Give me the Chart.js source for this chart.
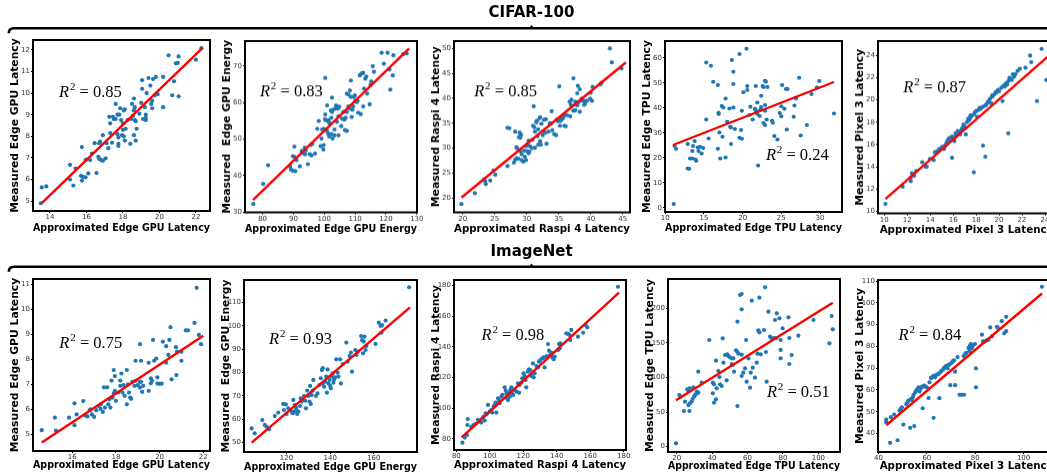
<!DOCTYPE html>
<html>
<head>
<meta charset="utf-8">
<script src="https://cdn.jsdelivr.net/npm/chart.js@4.4.1/dist/chart.umd.min.js"></script>
<style>
    html, body { margin: 0; padding: 0; background: #fff; }
    #fig { position: relative; width: 1047px; height: 476px; overflow: hidden; }
    #fig canvas { position: absolute; }
</style>
</head>
<body>
<div id="fig">
    <canvas id="braces" width="1047" height="476" style="left:0;top:0;width:1047px;height:476px"></canvas>
</div>
<script>
// Section titles
const groupTitles = ['CIFAR-100', 'ImageNet'];

// R^2 values shown on each panel (row by row)
const r2Values = ['0.85', '0.83', '0.85', '0.24', '0.87', '0.75', '0.93', '0.98', '0.51', '0.84'];

// CIFAR-100 : [approximated, measured]
const cifarGpuLat = [[13.55,5.63],[13.8,5.68],[13.5,4.9],[15.1,6.68],[15.1,6.0],[15.28,5.72],[15.4,6.5],[15.75,7.5],[15.7,6.17],[15.8,6.12],[15.75,5.95],[15.95,6.9],[16.0,6.92],[15.95,6.1],[16.1,6.28],[16.2,6.9],[16.3,7.2],[16.45,7.68],[16.55,6.3],[16.65,7.05],[16.7,7.68],[16.75,7.75],[16.7,6.95],[16.8,6.9],[16.9,6.87],[16.9,8.05],[17.05,6.98],[17.1,7.68],[17.2,7.45],[17.25,8.9],[17.3,8.6],[17.3,8.15],[17.4,7.7],[17.45,8.9],[17.5,8.8],[17.6,8.8],[17.6,9.5],[17.7,8.1],[17.75,7.95],[17.75,7.65],[17.75,7.55],[17.7,9.0],[17.8,9.0],[17.85,9.3],[17.9,8.75],[17.95,8.05],[18.0,8.3],[18.05,9.2],[18.1,9.25],[18.05,8.0],[18.1,7.8],[18.0,8.6],[18.15,8.35],[18.25,8.75],[18.4,7.65],[18.45,8.8],[18.5,9.5],[18.55,8.95],[18.6,9.75],[18.65,9.35],[18.6,9.2],[18.65,8.75],[18.7,8.7],[18.7,7.8],[18.6,8.05],[18.75,8.35],[18.9,9.05],[19.0,9.55],[19.05,10.6],[19.05,10.2],[19.1,8.8],[19.2,8.8],[19.25,8.85],[19.25,8.75],[19.2,9.35],[19.25,9.0],[19.3,10.0],[19.4,10.7],[19.5,10.35],[19.55,9.5],[19.6,9.65],[19.6,9.3],[19.65,10.65],[19.75,9.9],[19.8,10.75],[19.9,9.95],[20.2,10.75],[20.2,9.35],[20.5,11.75],[20.7,9.9],[20.8,10.55],[20.9,11.38],[21.0,11.4],[21.05,11.7],[21.05,9.85],[22.0,11.55],[22.3,12.08]];
const cifarGpuLatFit = [[13.55,4.9],[22.35,12.08]];
const cifarGpuLatXTicks = [14, 16, 18, 20, 22];
const cifarGpuLatYTicks = [5, 6, 7, 8, 9, 10, 11, 12];

const cifarGpuEnergy = [[77.0,32.2],[80.2,37.7],[81.8,42.8],[88.9,42.5],[89.2,41.6],[89.8,41.3],[90.6,41.2],[89.8,45.3],[90.3,45.1],[90.3,47.9],[91.0,44.2],[92.1,42.5],[92.7,46.7],[93.2,46.1],[93.8,45.8],[94.0,46.9],[93.7,47.6],[94.7,43.1],[95.3,45.8],[95.9,45.5],[95.6,48.3],[96.1,48.7],[97.0,46.0],[97.7,52.8],[98.2,54.9],[98.8,48.0],[99.1,50.1],[99.3,52.6],[99.8,52.8],[99.7,47.1],[99.8,48.3],[100.2,55.4],[100.6,55.1],[100.3,56.7],[100.3,66.7],[100.9,52.2],[101.2,51.5],[100.9,59.2],[101.4,55.1],[101.6,54.4],[101.6,50.7],[102.3,51.3],[102.1,57.8],[102.5,57.4],[102.3,55.8],[102.5,61.3],[102.7,50.1],[103.3,51.0],[103.0,58.1],[103.6,58.3],[103.8,59.2],[103.3,52.6],[104.1,58.9],[104.4,58.3],[104.8,58.8],[104.1,54.7],[104.6,56.2],[104.6,51.0],[105.5,53.5],[105.7,55.6],[106.2,57.4],[106.5,55.3],[106.9,55.8],[106.7,52.4],[107.3,52.2],[107.3,62.4],[107.8,62.2],[107.3,57.4],[107.8,58.9],[108.3,58.3],[108.3,63.3],[108.6,66.0],[108.6,61.5],[108.9,56.0],[109.1,58.0],[109.4,58.9],[109.5,61.5],[109.9,61.9],[110.1,60.5],[110.5,60.1],[110.8,60.4],[111.0,57.2],[111.5,67.4],[112.0,67.9],[112.6,68.1],[111.8,56.8],[112.6,58.9],[112.9,63.8],[113.3,66.5],[113.6,67.1],[113.9,62.4],[114.7,59.5],[115.2,65.8],[115.7,69.9],[115.0,64.8],[116.1,68.4],[118.6,73.6],[119.3,70.6],[120.5,73.6],[121.1,69.0],[121.4,63.5],[122.2,67.4],[122.4,72.9],[125.6,73.2],[126.7,73.4]];
const cifarGpuEnergyFit = [[76.9,33.3],[127.5,74.8]];
const cifarGpuEnergyXTicks = [80, 90, 100, 110, 120, 130];
const cifarGpuEnergyYTicks = [30, 40, 50, 60, 70];

const cifarRaspi = [[19.8,18.8],[21.9,21.0],[23.3,23.7],[23.6,22.8],[23.5,23.4],[24.3,23.5],[24.8,25.5],[25.1,24.7],[27.0,26.4],[27.0,34.1],[27.3,34.0],[28.0,27.1],[28.2,27.7],[28.2,33.3],[28.4,30.2],[28.5,30.0],[28.4,28.0],[28.7,27.9],[28.8,32.2],[29.0,32.1],[29.1,32.7],[28.9,33.1],[29.0,29.4],[29.2,28.8],[29.2,27.6],[29.5,27.3],[29.6,29.5],[29.7,28.3],[29.9,30.4],[30.1,30.7],[29.9,27.6],[30.1,29.4],[30.3,29.0],[30.4,29.3],[30.3,31.5],[30.5,30.4],[30.8,30.0],[30.9,31.7],[31.0,34.5],[31.2,34.2],[31.1,38.4],[31.3,33.3],[31.5,35.2],[31.6,35.5],[31.3,30.1],[31.7,32.4],[31.8,33.8],[31.8,30.7],[32.0,36.0],[32.1,36.2],[32.1,31.4],[32.2,30.7],[32.3,34.9],[32.5,32.6],[32.6,33.4],[32.7,35.7],[32.9,33.1],[33.0,35.8],[33.1,30.9],[33.4,33.3],[33.6,35.0],[33.8,34.9],[33.9,37.4],[34.0,33.6],[34.3,32.8],[34.6,32.6],[34.7,35.7],[34.9,35.4],[35.1,35.9],[35.1,42.4],[35.2,34.5],[35.3,35.5],[35.6,35.9],[35.7,36.2],[35.9,36.6],[35.9,34.5],[36.1,34.4],[36.3,36.6],[36.7,39.3],[36.9,38.7],[37.0,39.7],[36.8,36.4],[37.3,44.0],[37.3,37.5],[37.6,37.6],[37.6,39.3],[37.9,38.6],[38.0,39.1],[37.9,41.0],[38.0,42.5],[38.3,41.8],[38.3,37.3],[38.4,39.5],[38.6,39.9],[38.9,39.5],[39.0,38.7],[39.1,39.0],[39.4,39.5],[39.9,39.9],[40.2,39.5],[40.0,41.1],[40.3,42.3],[41.5,42.8],[41.7,43.1],[43.0,50.0],[43.3,47.2],[44.8,46.0]];
const cifarRaspiFit = [[19.8,20.1],[45.5,47.2]];
const cifarRaspiXTicks = [20, 25, 30, 35, 40, 45];
const cifarRaspiYTicks = [20, 25, 30, 35, 40, 45, 50];

const cifarTpu = [[11.1,1.5],[11.2,24.7],[11.4,23.6],[12.9,25.5],[12.9,15.7],[13.1,15.6],[13.2,19.7],[13.5,19.7],[13.5,22.7],[13.8,26.7],[13.6,24.7],[13.9,19.3],[14.0,18.8],[14.2,24.1],[14.5,24.4],[14.9,23.9],[14.3,22.7],[14.7,21.7],[15.3,58.1],[15.3,35.3],[15.6,27.7],[15.9,56.8],[16.2,50.4],[16.8,49.1],[16.9,38.0],[16.9,37.5],[16.8,23.6],[17.0,30.1],[17.1,19.7],[17.3,40.7],[17.5,40.1],[17.4,28.4],[17.8,43.7],[17.8,20.1],[18.0,34.4],[18.3,39.7],[18.4,32.4],[18.5,32.1],[18.5,25.5],[18.6,59.1],[18.8,54.4],[18.8,49.5],[18.8,40.1],[19.0,31.5],[19.6,61.5],[19.6,28.0],[19.9,27.6],[19.8,31.1],[19.9,38.8],[20.1,46.2],[20.5,63.6],[20.6,47.1],[20.6,48.7],[20.9,37.1],[21.0,40.4],[21.3,35.3],[21.6,39.6],[21.7,39.0],[21.7,48.7],[21.9,42.1],[21.9,37.5],[22.2,36.7],[22.0,16.9],[22.3,39.3],[22.4,40.3],[22.4,44.8],[22.6,48.7],[22.7,33.9],[22.7,48.3],[22.9,50.8],[23.0,50.4],[22.9,41.1],[22.9,38.8],[22.9,33.1],[23.1,35.3],[23.2,48.3],[23.8,34.8],[23.9,34.0],[24.1,28.7],[24.5,27.3],[24.8,37.9],[25.0,36.6],[25.0,40.6],[25.1,49.1],[25.4,39.6],[25.6,47.5],[25.8,47.5],[25.7,31.3],[26.6,36.4],[26.7,40.9],[26.9,43.7],[27.3,52.0],[27.5,28.9],[28.3,33.1],[28.9,45.5],[29.6,48.1],[29.9,50.7],[31.8,37.7]];
const cifarTpuFit = [[11.0,25.1],[31.8,50.3]];
const cifarTpuXTicks = [10, 15, 20, 25, 30];
const cifarTpuYTicks = [0, 10, 20, 30, 40, 50, 60];

const cifarPixel = [[10.1,10.66],[11.6,12.2],[12.3,12.7],[12.3,13.0],[12.4,13.4],[12.6,13.2],[12.8,13.6],[13.3,14.4],[13.6,14.0],[13.7,14.0],[13.98,14.7],[14.3,14.6],[14.4,15.3],[14.6,15.4],[14.8,15.6],[15.0,15.7],[15.1,15.8],[15.2,15.6],[15.3,15.9],[15.4,16.1],[15.5,16.3],[15.6,16.5],[15.7,16.6],[15.8,16.5],[15.9,16.7],[15.9,14.8],[16.0,16.5],[16.1,16.3],[16.2,16.7],[16.2,17.0],[16.3,16.9],[16.4,17.1],[16.4,17.2],[16.5,17.0],[16.6,16.9],[16.7,17.3],[16.8,17.5],[16.9,17.8],[17.0,17.6],[17.1,16.9],[17.2,18.0],[17.3,18.3],[17.4,18.2],[17.5,18.4],[17.5,18.6],[17.6,18.6],[17.8,18.7],[17.9,18.9],[18.0,19.0],[17.8,13.5],[18.1,18.5],[18.2,19.1],[18.3,19.3],[18.4,19.2],[18.6,19.4],[18.6,15.9],[18.8,14.9],[18.8,19.5],[18.9,19.6],[19.0,19.8],[19.1,19.9],[19.2,20.1],[19.4,20.3],[19.4,20.4],[19.3,19.7],[19.6,20.5],[19.7,20.7],[19.8,20.7],[19.9,20.9],[20.0,20.8],[20.2,21.1],[20.3,19.9],[20.4,21.3],[20.5,21.2],[20.6,21.5],[20.7,21.4],[20.8,21.7],[20.8,17.0],[20.9,22.0],[21.0,21.9],[21.1,21.8],[21.2,22.3],[21.3,22.1],[21.4,22.3],[21.6,22.6],[21.8,22.8],[22.3,22.9],[22.7,24.0],[22.8,23.4],[23.3,19.9],[23.7,24.6],[24.1,21.8]];
const cifarPixelFit = [[10.1,11.1],[24.9,24.5]];
const cifarPixelXTicks = [10, 12, 14, 16, 18, 20, 22, 24];
const cifarPixelYTicks = [10, 12, 14, 16, 18, 20, 22, 24];

// ImageNet : [approximated, measured]
const inetGpuLat = [[14.6,5.17],[15.2,5.67],[15.25,5.15],[15.85,5.67],[16.1,6.24],[16.1,5.37],[16.2,5.8],[16.5,6.33],[16.6,5.75],[16.7,5.72],[16.8,5.97],[16.85,6.0],[16.9,5.8],[17.0,5.7],[17.1,5.97],[17.2,6.14],[17.3,6.2],[17.3,6.02],[17.4,5.9],[17.45,6.88],[17.5,6.07],[17.6,6.88],[17.65,6.2],[17.7,6.4],[17.75,6.07],[17.8,7.15],[17.85,6.47],[17.9,6.64],[17.9,7.57],[17.95,7.33],[17.95,6.74],[18.0,6.34],[18.1,6.67],[18.2,6.94],[18.2,7.15],[18.25,7.43],[18.3,6.67],[18.35,6.97],[18.4,6.54],[18.5,6.2],[18.5,7.57],[18.55,7.0],[18.6,6.67],[18.65,6.47],[18.7,6.42],[18.75,7.1],[18.85,6.94],[18.9,7.14],[19.0,6.97],[18.9,7.94],[19.1,7.1],[19.15,7.1],[19.1,6.87],[19.25,6.94],[19.1,8.6],[19.15,7.94],[19.2,6.7],[19.5,6.74],[19.6,7.24],[19.5,7.86],[19.6,7.04],[19.65,7.14],[19.7,8.77],[19.75,7.94],[19.85,8.03],[19.9,7.28],[19.9,7.03],[20.0,7.02],[20.1,7.03],[20.15,8.7],[20.3,8.52],[20.3,7.86],[20.4,8.17],[20.45,8.77],[20.5,9.28],[20.55,7.2],[20.75,8.48],[20.8,8.3],[20.77,7.37],[21.0,7.94],[21.0,8.3],[21.2,9.15],[21.3,9.15],[21.6,9.45],[21.7,10.85],[21.8,8.97],[21.9,8.6]];
const inetGpuLatFit = [[14.6,4.68],[22.0,8.94]];
const inetGpuLatXTicks = [16, 18, 20, 22];
const inetGpuLatYTicks = [5, 6, 7, 8, 9, 10, 11];

const inetGpuEnergy = [[104.0,56.1],[105.4,54.0],[108.9,59.7],[110.0,57.6],[110.8,56.9],[112.0,55.7],[114.6,61.4],[116.2,62.9],[118.5,66.6],[119.7,66.4],[118.8,64.0],[120.0,62.3],[120.8,64.7],[121.5,64.0],[122.3,63.3],[122.8,62.6],[123.4,63.3],[123.1,68.3],[123.8,66.1],[124.3,65.1],[124.6,64.0],[124.9,62.3],[125.4,63.3],[126.2,65.7],[126.9,67.6],[126.5,69.0],[128.0,70.0],[128.5,68.0],[128.9,64.7],[129.5,72.3],[130.0,70.0],[130.5,67.6],[130.8,74.3],[131.5,70.4],[132.0,72.3],[131.1,66.6],[132.3,76.9],[133.5,70.0],[134.2,71.1],[135.1,74.7],[135.7,77.6],[136.2,81.1],[136.6,81.9],[136.6,75.4],[137.2,74.0],[137.7,76.1],[138.2,78.3],[138.5,71.4],[138.8,81.4],[139.2,75.4],[139.7,76.9],[140.0,74.3],[140.3,73.3],[140.8,78.3],[141.2,79.7],[141.5,75.7],[141.8,77.1],[142.3,78.0],[142.8,85.7],[143.4,80.0],[143.8,78.3],[144.6,85.7],[144.9,75.4],[145.8,83.7],[147.4,92.9],[148.0,84.7],[148.9,87.1],[149.5,88.6],[150.0,80.4],[151.5,89.7],[152.0,87.6],[152.6,89.0],[154.2,95.7],[154.6,94.0],[155.4,93.3],[155.7,95.4],[155.1,88.3],[156.2,89.7],[156.6,91.4],[160.8,92.3],[162.3,101.4],[163.1,100.0],[163.8,100.4],[165.4,102.3],[163.5,97.1],[176.2,116.6]];
const inetGpuEnergyFit = [[104.0,50.0],[176.6,108.0]];
const inetGpuEnergyXTicks = [120, 140, 160];
const inetGpuEnergyYTicks = [50, 60, 70, 80, 90, 100, 110];

const inetRaspi = [[83.6,77.6],[85.0,80.9],[86.4,82.6],[86.8,93.0],[86.6,89.1],[89.0,88.0],[90.4,89.1],[91.6,89.8],[92.9,92.4],[93.9,91.3],[94.9,90.7],[95.5,93.5],[96.3,94.6],[96.9,92.0],[97.5,96.7],[98.3,96.3],[98.9,102.2],[99.9,97.8],[100.9,98.9],[101.5,97.2],[102.3,101.1],[102.9,102.2],[103.5,103.7],[103.9,97.2],[104.9,106.5],[105.5,105.0],[105.9,103.3],[106.9,107.6],[107.5,108.7],[108.9,113.7],[109.5,111.5],[109.9,109.3],[110.3,106.5],[110.9,105.4],[111.9,107.6],[111.5,110.2],[112.3,112.0],[112.9,113.7],[113.5,109.3],[113.9,108.7],[114.9,112.0],[115.9,110.9],[116.9,116.3],[117.5,110.2],[117.8,115.2],[118.8,116.7],[119.4,119.6],[120.2,122.8],[120.8,121.1],[121.4,118.5],[121.8,113.7],[122.8,123.9],[123.4,125.4],[124.2,125.0],[124.8,121.1],[125.8,129.3],[126.2,120.2],[126.8,122.8],[127.8,127.6],[128.8,126.7],[129.4,130.4],[130.2,131.5],[131.4,132.6],[132.2,133.2],[132.8,126.7],[133.4,133.2],[134.2,134.1],[134.8,141.9],[135.4,137.6],[136.2,134.8],[136.8,136.3],[137.4,133.2],[138.2,132.0],[138.8,133.7],[140.8,138.0],[141.4,141.9],[142.2,142.4],[141.8,139.1],[145.7,148.9],[146.7,148.5],[147.7,147.8],[148.1,144.6],[148.7,151.1],[152.7,146.7],[155.8,149.3],[157.2,154.3],[158.2,152.8],[176.6,179.3]];
const inetRaspiFit = [[83.2,81.1],[177.2,175.4]];
const inetRaspiXTicks = [80, 100, 120, 140, 160, 180];
const inetRaspiYTicks = [80, 100, 120, 140, 160, 180];

const inetTpu = [[19.6,4.8],[21.5,74.7],[22.3,72.3],[24.1,51.6],[27.2,51.6],[24.7,65.1],[26.0,82.9],[26.6,81.0],[27.2,84.3],[26.6,60.2],[27.5,62.7],[28.5,65.5],[29.0,68.9],[29.8,72.3],[30.4,74.7],[30.9,76.1],[29.4,85.8],[31.3,79.5],[32.2,78.1],[32.2,108.4],[34.1,92.5],[38.4,154.2],[40.4,92.5],[41.1,90.1],[40.4,77.1],[41.1,63.6],[42.2,68.4],[42.6,84.3],[42.2,124.3],[43.5,109.4],[44.1,100.7],[44.5,90.1],[45.4,87.7],[46.0,156.6],[46.4,121.4],[47.3,132.5],[48.6,133.5],[48.2,95.9],[49.2,131.0],[50.1,129.2],[51.1,127.7],[51.1,119.5],[51.7,118.1],[52.0,127.7],[52.4,108.4],[53.5,139.3],[54.3,136.9],[54.8,134.5],[54.3,180.7],[54.3,58.8],[55.8,219.3],[56.7,220.7],[56.7,198.6],[56.7,133.0],[56.7,102.2],[57.6,107.0],[58.6,113.3],[59.2,154.2],[59.5,94.0],[60.5,127.7],[61.4,85.3],[61.8,107.0],[62.9,114.2],[62.4,211.1],[64.2,99.8],[65.2,121.4],[65.6,134.5],[66.1,168.2],[66.7,165.3],[66.7,215.4],[67.4,133.5],[69.3,168.7],[69.9,230.4],[70.4,136.9],[70.8,94.0],[71.8,195.2],[72.7,159.2],[73.6,156.6],[75.0,157.1],[76.1,156.6],[75.5,183.1],[76.5,192.8],[78.0,185.6],[78.7,154.2],[78.7,139.8],[78.7,127.7],[79.8,171.1],[83.1,187.0],[83.6,119.5],[83.6,157.1],[84.9,132.5],[88.7,160.5],[97.2,183.1],[106.2,149.4],[107.5,188.9],[108.1,169.6]];
const inetTpuFit = [[19.6,67.0],[108.1,208.2]];
const inetTpuXTicks = [20, 40, 60, 80, 100];
const inetTpuYTicks = [0, 50, 100, 150, 200];

const inetPixel = [[43.2,46.4],[43.2,45.2],[44.8,35.7],[45.1,47.5],[46.5,48.7],[47.9,36.9],[48.7,50.5],[49.2,51.3],[49.7,52.0],[50.3,44.1],[51.5,53.5],[52.0,54.3],[52.4,55.1],[53.1,42.6],[53.4,55.8],[53.8,55.4],[54.2,56.6],[54.5,57.8],[54.8,43.4],[55.2,58.9],[55.6,59.7],[56.1,60.4],[56.6,61.2],[57.0,59.3],[57.6,60.8],[58.0,61.5],[58.3,51.6],[58.9,62.0],[59.4,61.5],[60.0,61.2],[60.7,56.3],[61.1,63.5],[61.7,65.5],[62.1,65.8],[62.5,66.1],[63.0,66.6],[63.4,65.8],[62.8,47.2],[64.1,67.0],[64.8,67.3],[65.5,68.1],[65.2,56.2],[66.2,68.9],[66.9,69.6],[67.2,70.3],[68.0,71.1],[68.6,70.0],[69.0,71.5],[69.4,71.8],[69.7,62.2],[70.3,72.5],[70.8,73.3],[71.3,73.6],[71.7,68.4],[71.7,62.2],[72.7,75.1],[73.5,57.8],[74.5,57.8],[75.4,57.8],[75.2,75.6],[75.9,76.6],[76.3,77.0],[77.2,79.3],[77.9,80.5],[78.2,81.1],[77.6,77.8],[78.6,79.1],[79.0,80.2],[79.9,81.1],[80.3,69.9],[80.3,61.2],[82.8,85.4],[83.2,82.3],[83.7,82.1],[84.6,82.7],[85.5,83.1],[86.2,88.7],[86.9,84.6],[89.0,89.0],[89.3,88.6],[91.0,91.6],[92.0,86.0],[92.8,87.0],[92.8,93.6],[107.6,107.4]];
const inetPixelFit = [[43.2,43.8],[107.6,104.3]];
const inetPixelXTicks = [40, 60, 80, 100];
const inetPixelYTicks = [40, 50, 60, 70, 80, 90, 100, 110];

// Panel setup: frame = plot box in page px [left, top, width, height]
// xr / yr = [min, max], xh = height left below the box for ticks + title
// r2at = label position as fraction of plot box
const panels = [
    { pts: cifarGpuLat, fit: cifarGpuLatFit, xt: cifarGpuLatXTicks, yt: cifarGpuLatYTicks,
      frame: [33, 40, 177, 171], xh: 28, xr: [13.07, 22.77], yr: [4.54, 12.46],
      xl: 'Approximated Edge GPU Latency', yl: 'Measured Edge GPU Latency', r2at: [0.147, 0.333] },
    { pts: cifarGpuEnergy, fit: cifarGpuEnergyFit, xt: cifarGpuEnergyXTicks, yt: cifarGpuEnergyYTicks,
      frame: [245, 41, 172, 171], xh: 27.5, xr: [74.3, 130.05], yr: [29.9, 76.8],
      xl: 'Approximated Edge GPU Energy', yl: 'Measured  Edge GPU Energy', r2at: [0.087, 0.32] },
    { pts: cifarRaspi, fit: cifarRaspiFit, xt: cifarRaspiXTicks, yt: cifarRaspiYTicks,
      frame: [454, 41, 176, 171], xh: 27.5, xr: [18.64, 46.14], yr: [17.13, 51.47],
      xl: 'Approximated Raspi 4 Latency', yl: 'Measured Raspi 4 Latency', r2at: [0.115, 0.32] },
    { pts: cifarTpu, fit: cifarTpuFit, xt: cifarTpuXTicks, yt: cifarTpuYTicks,
      frame: [665, 41, 177, 171], xh: 27, xr: [9.97, 32.84], yr: [-1.7, 66.7],
      xl: 'Approximated Edge TPU Latency', yl: 'Measured Edge TPU Latency', r2at: [0.57, 0.696] },
    { pts: cifarPixel, fit: cifarPixelFit, xt: cifarPixelXTicks, yt: cifarPixelYTicks,
      frame: [878, 41, 177, 172], xh: 27.5, xr: [9.45, 24.87], yr: [9.8, 25.3],
      xl: 'Approximated Pixel 3 Latency', yl: 'Measured Pixel 3 Latency', r2at: [0.143, 0.30] },
    { pts: inetGpuLat, fit: inetGpuLatFit, xt: inetGpuLatXTicks, yt: inetGpuLatYTicks,
      frame: [33, 279, 177, 172], xh: 25, xr: [14.2, 22.31], yr: [4.34, 11.2],
      xl: 'Approximated Edge GPU Latency', yl: 'Measured Edge GPU Latency', r2at: [0.149, 0.40] },
    { pts: inetGpuEnergy, fit: inetGpuEnergyFit, xt: inetGpuEnergyXTicks, yt: inetGpuEnergyYTicks,
      frame: [244, 280, 173, 172], xh: 26, xr: [100.5, 179.8], yr: [46.0, 119.7],
      xl: 'Approximated Edge GPU Energy', yl: 'Measured  Edge GPU Energy', r2at: [0.145, 0.37] },
    { pts: inetRaspi, fit: inetRaspiFit, xt: inetRaspiXTicks, yt: inetRaspiYTicks,
      frame: [454, 280, 172, 170], xh: 26, xr: [78.6, 181.4], yr: [72.8, 183.7],
      xl: 'Approximated Raspi 4 Latency', yl: 'Measured Raspi 4 Latency', r2at: [0.16, 0.353] },
    { pts: inetTpu, fit: inetTpuFit, xt: inetTpuXTicks, yt: inetTpuYTicks,
      frame: [668, 279, 172, 173], xh: 25, xr: [15.1, 112.2], yr: [-7.7, 242.4],
      xl: 'Approximated Edge TPU Latency', yl: 'Measured Edge TPU Latency', r2at: [0.575, 0.68] },
    { pts: inetPixel, fit: inetPixelFit, xt: inetPixelXTicks, yt: inetPixelYTicks,
      frame: [878, 280, 177, 172], xh: 25, xr: [39.8, 113.0], yr: [31.5, 110.5],
      xl: 'Approximated Pixel 3 Latency', yl: 'Measured Pixel 3 Latency', r2at: [0.116, 0.35] }
];

const PAD_T = 8, PAD_R = 8, Y_W = 28;
const fig = document.getElementById('fig');

// Braces and section titles
(function drawBraces() {
    const ctx = document.getElementById('braces').getContext('2d');
    ctx.strokeStyle = '#000';
    ctx.fillStyle = '#000';
    [28.3, 266.8].forEach((y, i) => {
        ctx.lineWidth = 2.6;
        ctx.beginPath();
        ctx.moveTo(8.8, y + 5);
        ctx.quadraticCurveTo(8.8, y, 14, y);
        ctx.lineTo(1050, y);
        ctx.stroke();
        ctx.beginPath();
        ctx.moveTo(529, y);
        ctx.lineTo(531.5, y - 3.2);
        ctx.lineTo(534, y);
        ctx.closePath();
        ctx.fill();
        ctx.font = 'bold 15px "DejaVu Sans"';
        ctx.textAlign = 'center';
        ctx.textBaseline = 'alphabetic';
        ctx.fillText(groupTitles[i], 531.5, y - 11);
    });
})();

// Black box around the plot area
const framePlugin = {
    id: 'frame',
    afterDraw(chart) {
        const { ctx, chartArea: a } = chart;
        ctx.save();
        ctx.strokeStyle = '#000';
        ctx.lineWidth = 2;
        ctx.strokeRect(a.left, a.top, a.right - a.left, a.bottom - a.top);
        ctx.restore();
    }
};

// R^2 annotation
function r2Plugin(value, at) {
    return {
        id: 'r2',
        afterDatasetsDraw(chart) {
            const { ctx, chartArea: a } = chart;
            const x = a.left + at[0] * (a.right - a.left);
            const y = a.top + at[1] * (a.bottom - a.top);
            ctx.save();
            ctx.fillStyle = '#000';
            ctx.textAlign = 'left';
            ctx.textBaseline = 'alphabetic';
            ctx.font = 'italic 16.5px "Liberation Serif"';
            ctx.fillText('R', x, y);
            let w = ctx.measureText('R').width + 0.8;
            ctx.font = '11px "Liberation Serif"';
            ctx.fillText('2', x + w, y - 7);
            w += ctx.measureText('2').width;
            ctx.font = '16.5px "Liberation Serif"';
            ctx.fillText(' = ' + value, x + w, y);
            ctx.restore();
        }
    };
}

function axis(range, ticks, label, isX, xh) {
    return {
        type: 'linear',
        position: isX ? 'bottom' : 'left',
        min: range[0],
        max: range[1],
        afterFit: isX ? (s) => { s.height = xh; } : (s) => { s.width = Y_W; },
        afterBuildTicks: (s) => { s.ticks = ticks.map(v => ({ value: v })); },
        ticks: {
            autoSkip: false,
            maxRotation: 0,
            padding: isX ? 0 : 1,
            color: '#333',
            font: { family: 'DejaVu Sans', size: 7 }
        },
        grid: { drawOnChartArea: false, tickLength: 2, color: '#000', lineWidth: 1 },
        border: { display: false },
        title: {
            display: true,
            text: label,
            color: '#000',
            padding: { top: 4, bottom: 4 },
            font: { family: 'DejaVu Sans', weight: 'bold', size: isX ? 10.3 : 10.8 }
        }
    };
}

panels.forEach((p, i) => {
    const [fl, ft, fw, fh] = p.frame;
    const c = document.createElement('canvas');
    const w = Y_W + fw + PAD_R, h = PAD_T + fh + p.xh;
    c.style.left = (fl - Y_W) + 'px';
    c.style.top = (ft - PAD_T) + 'px';
    c.style.width = w + 'px';
    c.style.height = h + 'px';
    c.width = w;
    c.height = h;
    fig.appendChild(c);

    new Chart(c, {
        type: 'scatter',
        data: {
            datasets: [
                {
                    data: p.fit.map(([x, y]) => ({ x, y })),
                    showLine: true,
                    borderColor: '#ff0000',
                    borderWidth: 2.4,
                    pointRadius: 0
                },
                {
                    data: p.pts.map(([x, y]) => ({ x, y })),
                    backgroundColor: '#1f77b4',
                    borderWidth: 0,
                    pointRadius: 2.1
                }
            ]
        },
        options: {
            responsive: false,
            animation: false,
            layout: { padding: { top: PAD_T, right: PAD_R, left: 0, bottom: 0 }, autoPadding: false },
            plugins: { legend: { display: false }, tooltip: { enabled: false } },
            scales: {
                x: axis(p.xr, p.xt, p.xl, true, p.xh),
                y: axis(p.yr, p.yt, p.yl, false, p.xh)
            }
        },
        plugins: [framePlugin, r2Plugin(r2Values[i], p.r2at)]
    });
});
</script>
</body>
</html>
